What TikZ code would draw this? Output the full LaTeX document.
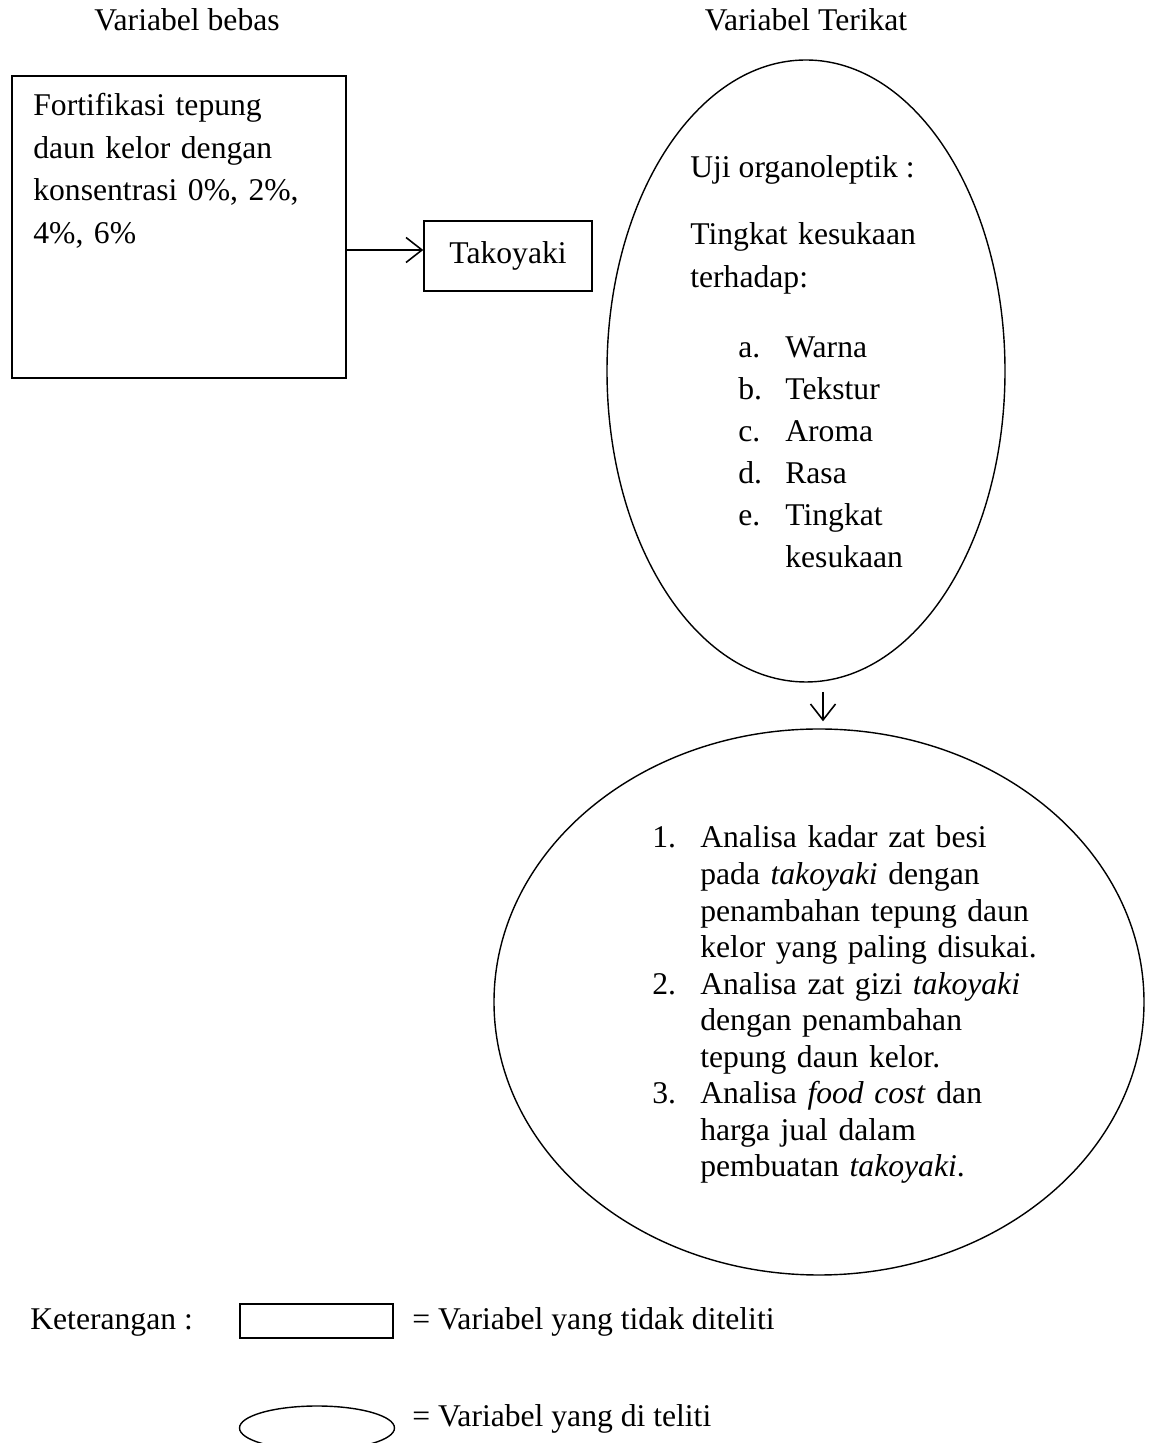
\documentclass[tikz,border=0pt]{standalone}
\usepackage{fontspec}
\setmainfont{Liberation Serif}
\usetikzlibrary{arrows.meta, shapes.geometric}

\begin{document}
\begin{tikzpicture}[
	txt/.style={font=\fontsize{18}{24}\selectfont, inner sep=0pt},
	varbox/.style={shape=rectangle, draw, line width=0.8pt},
	varell/.style={shape=ellipse, draw, line width=0.8pt, inner sep=0pt},
	wire/.style={line width=0.9pt, -{Straight Barb[length=3.2mm, width=5mm]}}
]
	\useasboundingbox (0, 0) rectangle (23.04, 28.86);
	% Paths, nodes and wires:
	\node[txt, anchor=base] (hbebas) at (3.74, 28.24){Variabel bebas};
	\node[txt, anchor=base] (hterikat) at (16.12, 28.24){Variabel Terikat};
	\node[varbox, minimum width=6.68cm, minimum height=6.04cm] (fort) at (3.58, 24.32){} node[txt, anchor=base west, align=left, text width=6cm, font=\fontsize{18}{24.2}\selectfont] (forttxt) at (0.66, 26.55){Fortifikasi tepung\\daun kelor dengan\\konsentrasi 0\%, 2\%,\\4\%, 6\%};
	\node[varbox, txt, minimum width=3.36cm, minimum height=1.4cm] (tako) at (10.16, 23.74){Takoyaki};
	\draw[wire] ([yshift=0.12cm]tako.west -| fort.east) -- ([yshift=0.12cm]tako.west);
	\node[varell, minimum width=7.96cm, minimum height=12.44cm] (organo) at (16.12, 21.44){};
	\node[txt, anchor=base west] (uji) at (13.8, 25.3){Uji organoleptik :};
	\node[txt, anchor=base west, align=left, text width=5cm, font=\fontsize{18}{24.4}\selectfont] (suka) at (13.8, 23.96){Tingkat kesukaan\\terhadap:};
	\node[txt, anchor=base west, align=left, text width=5cm, font=\fontsize{18}{23.8}\selectfont] (aspek) at (14.76, 21.7){\makebox[0.94cm][l]{a.}Warna\\\makebox[0.94cm][l]{b.}Tekstur\\\makebox[0.94cm][l]{c.}Aroma\\\makebox[0.94cm][l]{d.}Rasa\\\makebox[0.94cm][l]{e.}Tingkat\\\hspace*{0.94cm}kesukaan};
	\coordinate (dtop) at (16.46, 15.02);
	\node[varell, minimum width=13cm, minimum height=10.92cm] (analisa) at (16.38, 8.82){};
	\draw[wire, shorten >=0.14cm] (dtop) -- (dtop |- analisa.north);
	\node[txt, anchor=base west, align=left, text width=8cm, font=\fontsize{18}{20.8}\selectfont] (analisatxt) at (13.04, 11.9){\makebox[0.96cm][l]{1.}Analisa kadar zat besi\\\hspace*{0.96cm}pada \textit{takoyaki} dengan\\\hspace*{0.96cm}penambahan tepung daun\\\hspace*{0.96cm}kelor yang paling disukai.\\\makebox[0.96cm][l]{2.}Analisa zat gizi \textit{takoyaki}\\\hspace*{0.96cm}dengan penambahan\\\hspace*{0.96cm}tepung daun kelor.\\\makebox[0.96cm][l]{3.}Analisa \textit{food cost} dan\\\hspace*{0.96cm}harga jual dalam\\\hspace*{0.96cm}pembuatan \textit{takoyaki}.};
	% Keterangan:
	\node[txt, anchor=base west] (ket) at (0.6, 2.26){Keterangan :};
	\node[varbox, minimum width=3.06cm, minimum height=0.68cm] (legbox) at (6.33, 2.44){};
	\node[txt, anchor=base west] (legboxtxt) at (8.24, 2.26){= Variabel yang tidak diteliti};
	\node[varell, minimum width=3.1cm, minimum height=0.88cm] (legell) at (6.34, 0.3){};
	\node[txt, anchor=base west] (legelltxt) at (8.24, 0.32){= Variabel yang di teliti};
\end{tikzpicture}
\end{document}
